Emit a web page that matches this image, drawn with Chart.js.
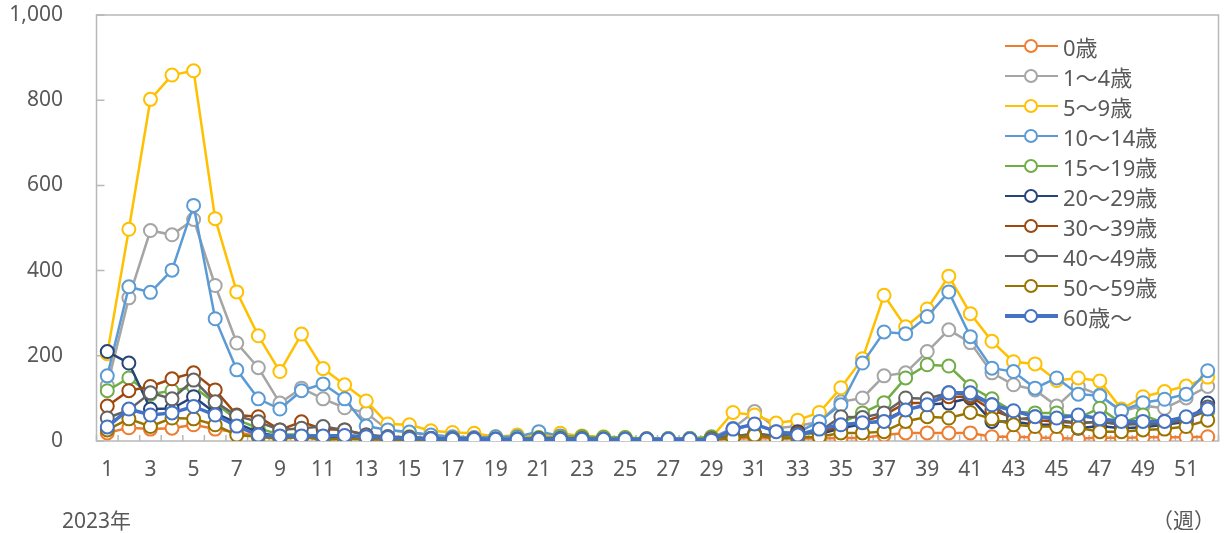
<!DOCTYPE html>
<html><head><meta charset="utf-8">
<script src="https://cdn.jsdelivr.net/npm/chart.js@4.4.1/dist/chart.umd.min.js"></script>
<style>
html,body{margin:0;padding:0;background:#fff;}
#wrap{position:relative;width:1227px;height:533px;overflow:hidden;}
#c{position:absolute;left:0;top:0;}
.lbl{position:absolute;font-family:'Noto Sans','Noto Sans CJK JP',sans-serif;font-size:21px;color:#595959;line-height:26px;white-space:nowrap;}
#legend{position:absolute;left:1005px;top:31px;font-family:'Noto Sans','Noto Sans CJK JP',sans-serif;font-size:22px;color:#595959;}
.item{height:30px;display:flex;align-items:center;white-space:nowrap;}
.mk{position:relative;width:53px;height:30px;margin-right:5px;flex:none;}
.ln{position:absolute;left:0;right:0;top:13.75px;height:2.5px;}
.dot{position:absolute;left:19px;top:8px;width:10px;height:10px;border-radius:50%;background:#fff;border:2px solid;}
</style>
</head><body>
<div id="wrap">
<canvas id="c" width="1227" height="533"></canvas>
<div id="legend"></div>
<div class="lbl" style="left:62px;top:507px;">2023年</div>
<div class="lbl" style="right:12px;top:507px;">（週）</div>
</div>
<script>
const weeks = ['1','2','3','4','5','6','7','8','9','10','11','12','13','14','15','16','17','18','19','20','21','22','23','24','25','26','27','28','29','30','31','32','33','34','35','36','37','38','39','40','41','42','43','44','45','46','47','48','49','50','51','52'];
const yTicks = [0,200,400,600,800,1000];
const seriesNames = ['0歳','1〜4歳','5〜9歳','10〜14歳','15〜19歳','20〜29歳','30〜39歳','40〜49歳','50〜59歳','60歳〜'];
const seriesColors = ['#ED7D31','#A5A5A5','#FFC000','#5B9BD5','#70AD47','#264478','#9E480E','#636363','#997300','#4472C4'];

const age0 = [19,31,28,30,38,28,20,12,8,8,6,6,5, 4,4,3,3,3,2,3,2,3,3,2,2,2,2,2, 3,5,7,6,6,6,7,7,14,19,19,19,19,10,10,8,7,5,8,7,9,9,9,10];
const age1_4 = [130,336,494,484,520,365,230,172,89,124,99,78,66, 26,20,14,10,8,8,10,8,12,10,8,6,5,6,6, 8,30,69,30,35,45,92,101,153,160,210,261,231,160,132,120,82,128,108,69,83,77,101,128];
const age5_9 = [205,497,802,859,869,522,350,247,163,251,170,132,94, 40,38,24,20,18,10,14,12,18,12,10,8,5,5,5, 8,67,61,42,49,67,125,193,342,268,310,387,299,234,186,181,142,148,141,75,104,116,129,150];
const age10_14 = [153,362,349,401,553,287,167,99,75,118,134,99,35, 26,21,14,10,8,10,10,22,12,10,8,6,5,5,5, 5,28,38,22,20,46,85,183,256,252,292,350,245,171,163,124,148,110,106,71,90,98,110,165];
const age15_19 = [118,148,110,118,127,89,50,30,15,15,12,12,8, 8,10,6,4,4,5,6,8,8,10,8,8,5,5,6, 10,12,14,8,10,25,42,66,90,148,179,176,128,99,69,66,66,54,77,42,61,42,54,69];
const age20_29 = [210,183,75,76,104,66,42,20,10,10,8,8,5, 5,5,4,3,3,3,3,4,4,4,3,3,3,3,3, 4,8,14,10,22,16,30,40,49,73,85,89,101,46,46,38,38,30,35,30,32,38,45,89];
const age30_39 = [82,118,128,146,160,120,61,57,26,45,28,26,14, 10,8,6,5,5,4,4,5,5,5,4,4,4,3,3, 5,10,16,12,18,20,35,45,61,89,89,104,104,73,54,49,45,42,45,40,42,45,50,75];
const age40_49 = [54,73,113,99,143,92,59,45,26,30,34,26,14, 10,8,6,5,4,4,4,5,5,5,4,4,4,3,3, 5,10,18,12,16,22,57,55,66,101,99,113,108,85,49,57,50,42,45,38,40,40,50,80];
const age50_59 = [26,52,34,54,52,38,14,10,5,10,3,5,4, 3,3,2,2,2,2,2,2,2,2,2,2,2,2,2, 3,7,14,6,8,10,19,19,22,46,57,54,67,52,38,34,34,31,22,22,26,28,34,49];
const age60 = [33,75,61,66,81,61,35,14,12,12,12,13,10, 8,6,5,4,4,4,4,4,4,4,4,4,4,4,4, 2,28,40,22,14,28,38,43,46,73,85,113,113,85,71,57,54,61,52,46,46,46,57,75];

const seriesData = [age0,age1_4,age5_9,age10_14,age15_19,age20_29,age30_39,age40_49,age50_59,age60];

const datasets = seriesData.map((d,i)=>({
  label: seriesNames[i],
  data: d,
  borderColor: seriesColors[i],
  backgroundColor: '#FFFFFF',
  pointBackgroundColor: '#FFFFFF',
  pointBorderColor: seriesColors[i],
  pointRadius: 6.5,
  pointBorderWidth: 2,
  borderWidth: i===9 ? 3.5 : 2.5,
  tension: 0,
  order: 9 - i
}));

// HTML legend
const lg = document.getElementById('legend');
seriesNames.forEach((n,i)=>{
  const it = document.createElement('div'); it.className='item';
  const mk = document.createElement('div'); mk.className='mk';
  const ln = document.createElement('div'); ln.className='ln'; ln.style.background=seriesColors[i];
  if(i===9){ln.style.height='3.5px'; ln.style.top='13.25px';}
  const dt = document.createElement('div'); dt.className='dot'; dt.style.borderColor=seriesColors[i];
  mk.appendChild(ln); mk.appendChild(dt);
  const tx = document.createElement('span'); tx.textContent=n;
  it.appendChild(mk); it.appendChild(tx);
  lg.appendChild(it);
});

const framePlugin = {
  id:'frame',
  beforeDatasetsDraw(chart){
    const {ctx, chartArea:a, scales} = chart;
    const x = scales.x, y = scales.y;
    ctx.save();
    ctx.strokeStyle = '#B8B8B8';
    ctx.lineWidth = 1.5;
    ctx.strokeRect(a.left, a.top, a.right-a.left, a.bottom-a.top);
    ctx.beginPath();
    yTicks.forEach(v=>{ const py = y.getPixelForValue(v); ctx.moveTo(a.left, py); ctx.lineTo(a.left+8, py); });
    const w = x.getPixelForValue(1) - x.getPixelForValue(0);
    const x0 = x.getPixelForValue(0) - w/2;
    for(let i=0;i<=weeks.length;i++){ const px = x0 + i*w; ctx.moveTo(px, a.bottom); ctx.lineTo(px, a.bottom-6); }
    ctx.stroke();
    ctx.restore();
  }
};

const tickFont = {family:"'Noto Sans','Noto Sans CJK JP',sans-serif", size:21};
new Chart(document.getElementById('c'), {
  type:'line',
  data:{labels:weeks, datasets},
  options:{
    responsive:false,
    devicePixelRatio:1,
    animation:false,
    layout:{padding:{top:15,right:6,left:0,bottom:0}},
    plugins:{legend:{display:false}, tooltip:{enabled:false}},
    scales:{
      x:{
        offset:true,
        grid:{display:false, drawTicks:false},
        border:{display:false},
        ticks:{autoSkip:false, maxRotation:0, minRotation:0, padding:16, color:'#595959', font:tickFont,
          callback:function(v,i){ return i%2===0 ? weeks[i] : ''; }},
        afterFit(s){ s.height = 92; }
      },
      y:{
        min:0, max:1000,
        grid:{display:true, drawOnChartArea:false, drawTicks:true, tickLength:33.5, tickColor:'rgba(0,0,0,0)', color:'rgba(0,0,0,0)'},
        border:{display:false},
        ticks:{stepSize:200, padding:0, color:'#595959', font:tickFont,
          callback:(v)=> yTicks.includes(v) ? v.toLocaleString('en-US') : ''},
        afterFit(s){ s.width = 96.5; }
      }
    }
  },
  plugins:[framePlugin]
});
</script>
</body></html>
